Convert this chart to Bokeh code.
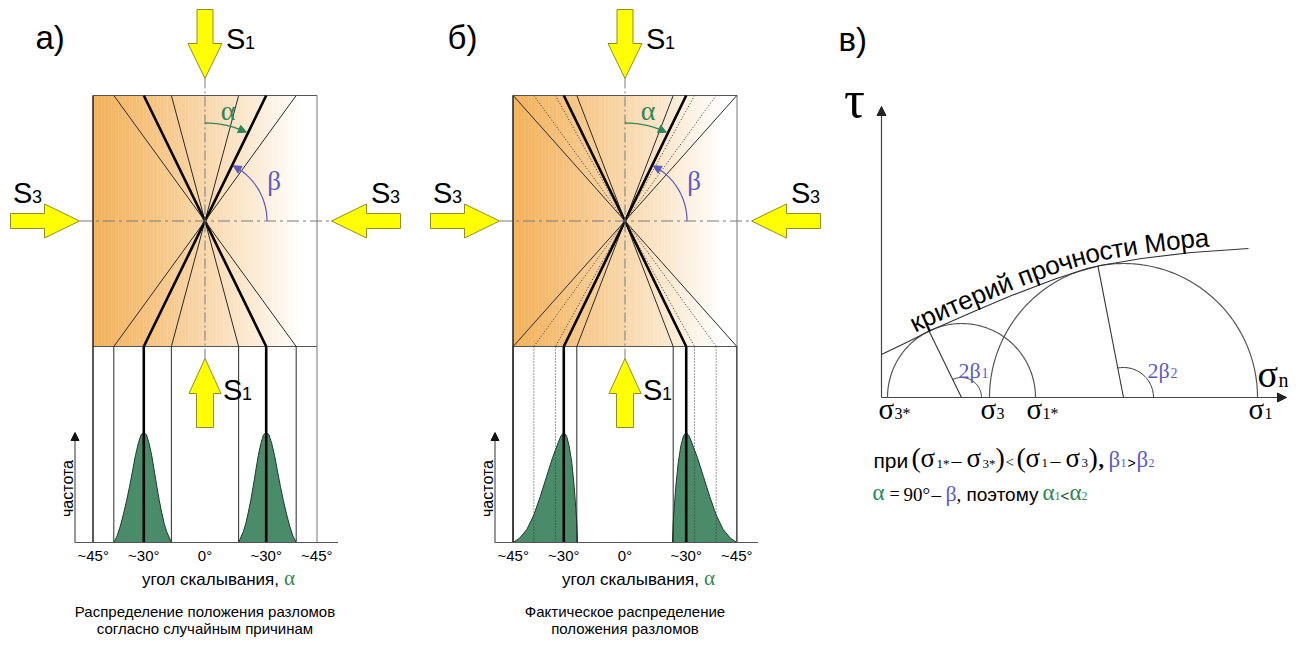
import numpy as np
from bokeh.plotting import figure
from bokeh.models import Range1d, Arrow, NormalHead
from bokeh.core.properties import value
from bokeh.embed import file_html
from bokeh.resources import INLINE

W, H = 1308, 645

# ---------------- data ----------------
# fault orientations, angle from S1 in degrees
faults_a = [15, 26, 36]
styles_a = ["thin", "thick", "thin"]
faults_b = [21, 26, 29, 36, 41.7]
styles_b = ["thin", "thick", "dot", "dot", "thin"]

tick_alpha = [-41.7, -26, 0, 26, 41.7]
tick_text = ["~45°", "~30°", "0°", "~30°", "~45°"]

# relative frequency of the shear angle (one flank, mirrored for the other)
dist_a_alpha = [15, 16, 17, 18, 19, 20, 21, 22, 23, 24, 25, 26, 27, 28, 29, 30, 31, 32, 33, 34, 35, 36]
dist_a_freq = [0.0, 0.05, 0.10, 0.17, 0.27, 0.38, 0.51, 0.65, 0.79, 0.90, 0.98, 1.0,
               0.98, 0.90, 0.79, 0.65, 0.51, 0.38, 0.26, 0.15, 0.06, 0.0]
dist_b_alpha = [20.7, 21, 22, 23, 24, 25, 26, 27, 28, 30, 32, 34, 36, 38, 40, 41.7]
dist_b_freq = [0.0, 0.18, 0.50, 0.73, 0.88, 0.97, 1.0, 0.97, 0.91, 0.77, 0.60, 0.42, 0.25, 0.12, 0.04, 0.0]

# Mohr diagram (stress units)
sig3_star, sig1_star = 6, 154
sig3, sig1 = 108, 376
two_beta1, two_beta2 = 116, 101
env_sigma = [0, 25, 48, 90, 130, 175, 197, 219, 260, 310, 367]
env_tau = [43, 55, 66.5, 85, 102, 119, 126, 132, 139, 145, 149]
env_label = "критерий прочности Мора"

# ---------------- layout / style ----------------
SANS = "Liberation Sans"
SERIF = "Liberation Serif"
GREEN = "#2f8656"
BELL = "#4a8c6a"
BLUE = "#5b5bc6"
YELLOW = "#ffff00"
AXIS_GREY = "#7a7a7a"
MID = 0.34  # em-box centre above the alphabetic baseline

BOX_T, BOX_B = 95.0, 346.0
BOX_HH = (BOX_B - BOX_T) / 2
BOX_HW = 112.0
CY = (BOX_T + BOX_B) / 2
BASE_Y = 542.0
FREQ_H = 110.0

LINE_STYLE = {
    "thin": dict(line_color="#2a2a2a", line_width=1.0),
    "thick": dict(line_color="#000000", line_width=2.6),
    "dot": dict(line_color="#3a3a3a", line_width=1.0, line_dash="1 2"),
}

p = figure(width=W, height=H, x_range=Range1d(0, W), y_range=Range1d(H, 0),
           output_backend="svg", toolbar_location=None, min_border=0,
           x_axis_location=None, y_axis_location=None)
p.grid.visible = False
p.outline_line_color = None
p.background_fill_color = "white"
p.border_fill_color = "white"


def txt(x, y, s, size, color="black", font=SANS, align="left",
        mid=False, angle=0.0, style="normal"):
    """Draw text; y is the alphabetic baseline unless mid=True (then the centre)."""
    yy = y if mid else y - MID * size
    p.text(x=[x], y=[yy], text=[s], text_font=value(font),
           text_font_size=f"{size}px", text_color=color, text_align=align,
           text_baseline="middle", angle=angle, text_font_style=style)


def block_arrow(tx, ty, ux, uy, head_len=35, head_w=34, shaft_len=34, shaft_w=16):
    vx, vy = -uy, ux
    along = [0, -head_len, -head_len, -head_len - shaft_len,
             -head_len - shaft_len, -head_len, -head_len]
    across = [0, head_w / 2, shaft_w / 2, shaft_w / 2,
              -shaft_w / 2, -shaft_w / 2, -head_w / 2]
    xs = [tx + a * ux + c * vx for a, c in zip(along, across)]
    ys = [ty + a * uy + c * vy for a, c in zip(along, across)]
    p.patch(xs, ys, fill_color=YELLOW, line_color="#8f8f1f", line_width=1)


def arrow_head(x0, y0, x1, y1, color, size=8):
    p.add_layout(Arrow(end=NormalHead(size=size, fill_color=color, line_color=color),
                       x_start=x0, y_start=y0, x_end=x1, y_end=y1,
                       line_alpha=0.0))


def label_s(x, y, sub):
    txt(x, y, "S", 29)
    txt(x + 19, y, sub, 18)


def fault_panel(cx, faults, styles, d_alpha, d_freq, letter, letter_x, caption):
    L, R = cx - BOX_HW, cx + BOX_HW

    # horizontal orange-to-white fill of the block
    n = 160
    e = np.linspace(L, R, n + 1)
    t = (0.5 * (e[:-1] + e[1:]) - L) / (R - L)
    k = np.clip(t / 0.93, 0, 1) ** 1.15
    base = np.array([243, 178, 92])
    cols = ["#%02x%02x%02x" % tuple(int(round(c)) for c in base + (255 - base) * kk) for kk in k]
    p.quad(left=e[:-1], right=e[1:] + 0.4, top=BOX_T, bottom=BOX_B,
           fill_color=cols, line_color=None)

    # frequency distributions
    off = BOX_HH * np.tan(np.radians(d_alpha))
    yv = BASE_Y - FREQ_H * np.array(d_freq)
    for sgn in (-1, 1):
        p.patch(cx + sgn * off, yv, fill_color=BELL, line_color="#1d3a2b", line_width=1)

    # block outline
    p.line([L, R], [BOX_T, BOX_T], line_color="#555555", line_width=1)
    p.line([L, R], [BOX_B, BOX_B], line_color="#555555", line_width=1)
    p.line([L, L], [BOX_T, BASE_Y], line_color="#222222", line_width=1.5)
    p.line([R, R], [BOX_T, BASE_Y], line_color="#777777", line_width=1)

    # fault traces and their projections onto the angle axis
    for ang, st in zip(faults, styles):
        dx = BOX_HH * np.tan(np.radians(ang))
        kw = LINE_STYLE[st]
        p.segment(x0=[cx - dx, cx + dx], y0=[BOX_T, BOX_T],
                  x1=[cx + dx, cx - dx], y1=[BOX_B, BOX_B], **kw)
        p.segment(x0=[cx - dx, cx + dx], y0=[BOX_B, BOX_B],
                  x1=[cx - dx, cx + dx], y1=[BASE_Y, BASE_Y], **kw)

    # principal stress axes
    p.line([cx, cx], [BOX_T - 17, BOX_B + 12], line_color=AXIS_GREY,
           line_width=1, line_dash="10 3 2 3")
    p.line([L - 13, R + 15], [CY, CY], line_color=AXIS_GREY,
           line_width=1.2, line_dash="12 4 3 4")

    # angle alpha (from S1) and beta (from S3)
    th = np.radians(np.linspace(90, 65, 30))
    ax_, ay_ = cx + 98 * np.cos(th), CY - 98 * np.sin(th)
    p.line(ax_[:-2], ay_[:-2], line_color=GREEN, line_width=1.3)
    arrow_head(ax_[-4], ay_[-4], ax_[-1], ay_[-1], GREEN, size=8)
    txt(cx + 23, 110, "α", 28, color=GREEN, font=SERIF, align="center", mid=True)

    th = np.radians(np.linspace(0, 63, 30))
    bx_, by_ = cx + 62 * np.cos(th), CY - 62 * np.sin(th)
    p.line(bx_[:-2], by_[:-2], line_color=BLUE, line_width=1.2)
    arrow_head(bx_[-4], by_[-4], bx_[-1], by_[-1], BLUE, size=8)
    txt(cx + 69, 180, "β", 27, color=BLUE, font=SERIF, align="center", mid=True)

    # stress arrows
    block_arrow(cx, BOX_T - 17, 0, 1)
    block_arrow(L - 13.5, CY, 1, 0, head_w=34, shaft_w=15)
    block_arrow(R + 14.5, CY, -1, 0, head_w=34, shaft_w=15)
    block_arrow(cx, BOX_B + 12, 0, -1, head_w=32, shaft_w=17)
    label_s(cx + 21, 48, "1")
    label_s(L - 80, 202, "3")
    label_s(R + 54, 202, "3")
    label_s(cx + 18, 399, "1")

    # frequency axis
    fx = cx - 130
    p.line([fx, cx + 133], [BASE_Y, BASE_Y], line_color="#555555", line_width=1.2)
    p.line([fx, fx], [BASE_Y, 440], line_color="#333333", line_width=1)
    arrow_head(fx, 445, fx, 432, "#111111", size=8)
    txt(fx - 8, 488, "частота", 16, align="center", mid=True, angle=np.pi / 2)

    for a_, s_ in zip(tick_alpha, tick_text):
        txt(cx + BOX_HH * np.tan(np.radians(a_)), 555, s_, 15, align="center", mid=True)
    txt(cx + 74, 585, "угол скалывания,", 17, align="right")
    txt(cx + 79, 585, "α", 21, color=GREEN, font=SERIF)

    txt(cx, 611, caption[0], 15, align="center", mid=True)
    txt(cx, 628, caption[1], 15, align="center", mid=True)
    txt(letter_x, 48, letter, 33)


fault_panel(204.5, faults_a, styles_a, dist_a_alpha, dist_a_freq, "а)", 35,
            ("Распределение положения разломов", "согласно случайным причинам"))
fault_panel(624.5, faults_b, styles_b, dist_b_alpha, dist_b_freq, "б)", 447,
            ("Фактическое распределение", "положения разломов"))

# ---------------- Mohr diagram ----------------
OX, OY = 881.0, 397.0


def sx(s):
    return OX + np.asarray(s, dtype=float)


def sy(t):
    return OY - np.asarray(t, dtype=float)


txt(838, 50, "в)", 33)

# axes
p.line([OX, 1280], [OY, OY], line_color="#444444", line_width=1.2)
arrow_head(1272, OY, 1286, OY, "#222222", size=9)
p.line([OX, OX], [OY, 115], line_color="#444444", line_width=1.2)
arrow_head(OX, 120, OX, 106, "#222222", size=9)
txt(854, 117, "τ", 52, font=SERIF, align="center")
txt(1257, 386, "σ", 38, font=SERIF)
txt(1278, 386, "n", 20, font=SERIF)

# Mohr circles with radii to the failure points
th = np.linspace(0, np.pi, 180)
for lo, hi, two_b, r_arc, lab_x, sub in ((sig3_star, sig1_star, two_beta1, 20, 958, "1"),
                                         (sig3, sig1, two_beta2, 30, 1147, "2")):
    c, r = (lo + hi) / 2, (hi - lo) / 2
    p.line(sx(c + r * np.cos(th)), sy(r * np.sin(th)), line_color="#555555", line_width=1.2)
    b = np.radians(two_b)
    p.line(sx([c, c + r * np.cos(b)]), sy([0, r * np.sin(b)]), line_color="#333333", line_width=1.1)
    ta = np.linspace(0, b, 40)
    p.line(sx(c + r_arc * np.cos(ta)), sy(r_arc * np.sin(ta)), line_color="#333333", line_width=1)
    txt(lab_x, 377, "2β", 22, color=BLUE, font=SERIF)
    txt(lab_x + 23, 377, sub, 14, color=BLUE, font=SERIF)

# failure envelope with its caption written along the curve
p.line(sx(env_sigma), sy(env_tau), line_color="#333333", line_width=1.2)

ADV = {"к": 0.438, "р": 0.556, "и": 0.559, "т": 0.427, "е": 0.556, "й": 0.559,
       " ": 0.278, "п": 0.546, "о": 0.556, "ч": 0.51, "н": 0.55, "с": 0.5,
       "М": 0.833, "а": 0.556}
FS = 26
grid = np.arange(0, max(env_sigma) + 0.25, 0.25)
X = sx(grid)
Y = sy(np.interp(grid, env_sigma, env_tau))
dX, dY = np.gradient(X), np.gradient(Y)
nn = np.hypot(dX, dY)
tx, ty = dX / nn, dY / nn
g = 5.0 + MID * FS
PX, PY = X + g * ty, Y - g * tx
s_len = np.concatenate([[0], np.cumsum(np.hypot(np.diff(PX), np.diff(PY)))])
s_pos = np.interp(36, grid, s_len)
cx_, cy_, ca_, ch_ = [], [], [], []
for ch in env_label:
    w = ADV.get(ch, 0.55) * FS
    sc = s_pos + w / 2
    cx_.append(float(np.interp(sc, s_len, PX)))
    cy_.append(float(np.interp(sc, s_len, PY)))
    ca_.append(float(np.arctan2(-np.interp(sc, s_len, ty), np.interp(sc, s_len, tx))))
    ch_.append(ch)
    s_pos += w
p.text(x=cx_, y=cy_, text=ch_, angle=ca_, text_font=value(SANS),
       text_font_size=f"{FS}px", text_color="black", text_align="center",
       text_baseline="middle")

# stress labels under the axis
for s_val, sub in ((sig3_star, "3*"), (sig3, "3"), (sig1_star, "1*"), (sig1, "1")):
    x0 = float(sx(s_val))
    txt(x0 - 9, 418, "σ", 29, font=SERIF)
    txt(x0 + 7, 418, sub, 16, font=SERIF)

# relations below the diagram
line1 = [
    (873, "при", SANS, 21, "black", "normal"),
    (911, "(", SERIF, 28, "black", "normal"),
    (920, "σ", SERIF, 27, "black", "normal"),
    (936, "1*", SERIF, 13, "black", "normal"),
    (951, "–", SERIF, 20, "black", "normal"),
    (966, "σ", SERIF, 27, "black", "normal"),
    (982, "3*", SERIF, 13, "black", "normal"),
    (995, ")", SERIF, 28, "black", "normal"),
    (1005, "<", SERIF, 15, "black", "normal"),
    (1016, "(", SERIF, 28, "black", "normal"),
    (1025, "σ", SERIF, 27, "black", "normal"),
    (1041, "1", SERIF, 13, "black", "normal"),
    (1050, "–", SERIF, 20, "black", "normal"),
    (1065, "σ", SERIF, 27, "black", "normal"),
    (1081, "3", SERIF, 13, "black", "normal"),
    (1088, ")", SERIF, 28, "black", "normal"),
    (1098, ",", SERIF, 22, "black", "bold"),
    (1108, "β", SERIF, 23, BLUE, "normal"),
    (1120, "1", SERIF, 12, BLUE, "normal"),
    (1127, ">", SANS, 14, "black", "normal"),
    (1136, "β", SERIF, 23, BLUE, "normal"),
    (1148, "2", SERIF, 12, BLUE, "normal"),
]
line2 = [
    (872, "α", SERIF, 23, GREEN, "normal"),
    (889, "=", SERIF, 18, "black", "normal"),
    (903, "90°", SERIF, 19, "black", "normal"),
    (931, "–", SERIF, 19, "black", "normal"),
    (945, "β", SERIF, 22, BLUE, "normal"),
    (956, ",", SERIF, 19, "black", "normal"),
    (966, "поэтому", SANS, 19, "black", "normal"),
    (1042, "α", SERIF, 23, GREEN, "normal"),
    (1054, "1", SERIF, 12, GREEN, "normal"),
    (1060, "<", SANS, 15, "#1a3a2a", "normal"),
    (1069, "α", SERIF, 23, GREEN, "normal"),
    (1081, "2", SERIF, 12, GREEN, "normal"),
]
for base_y, segs in ((467, line1), (500, line2)):
    for x0, s, font, size, col, style in segs:
        txt(x0, base_y, s, size, color=col, font=font, style=style)

open("out.html", "w").write(file_html(p, INLINE))
